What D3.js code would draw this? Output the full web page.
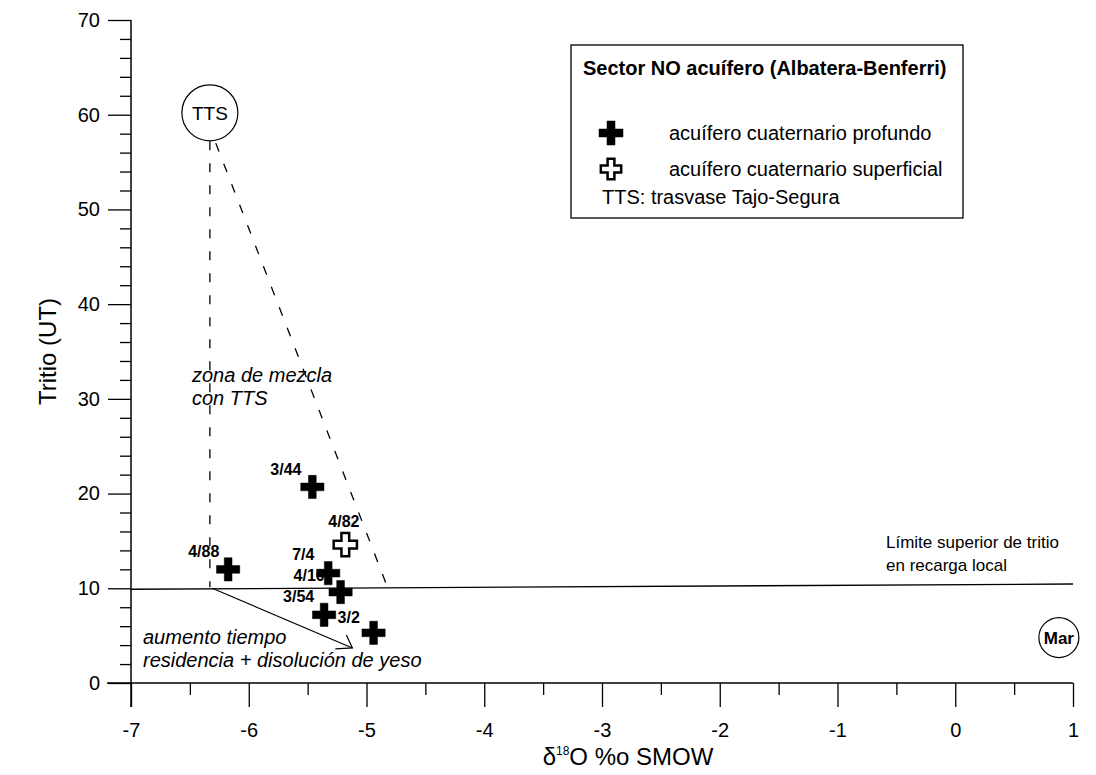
<html><head>
    <title>Tritio vs d18O</title>
    <script src="https://d3js.org/d3.v7.min.js"></script>
    <style>
        body { margin: 0; background: #fff; }
        text { font-family: "Liberation Sans", Arial, sans-serif; fill: #000; }
    </style>
</head>
<body>
<div id="chart"></div>

<script>
    const svgWidth = 1096;
    const svgHeight = 775;

    // data
    const pointNames  = ["4/88", "3/44", "4/82", "4/10", "7/4", "3/54", "3/2"];
    const pointD18O   = [-6.175, -5.46, -5.18, -5.22, -5.325, -5.36, -4.94];
    const pointTritio = [12.0, 20.7, 14.6, 9.6, 11.6, 7.2, 5.3];
    const pointType   = ["profundo", "profundo", "superficial", "profundo", "profundo", "profundo", "profundo"];

    const xTicks = [-7, -6, -5, -4, -3, -2, -1, 0, 1];
    const yTicks = [0, 10, 20, 30, 40, 50, 60, 70];

    const ttsPoint = [-6.33, 60.2];
    const marPoint = [0.88, 4.8];
    const limitLine = [[-7, 9.9], [1, 10.45]];
    const mixLeft = [[-6.33, 57.2], [-6.33, 10.1]];
    const mixRight = [[-6.28, 57.0], [-4.815, 9.9]];
    const arrowLine = [[-6.31, 10.0], [-5.12, 3.7]];

    const legendItems = ["acuífero cuaternario profundo", "acuífero cuaternario superficial"];

    // label offsets in px (relative to the point)
    const labelOffset = {
        "4/88": [-40, -12], "3/44": [-42, -12], "4/82": [-17, -18],
        "7/4": [-36, -13], "4/10": [-47, -11], "3/54": [-41, -13], "3/2": [-36, -10]
    };

    const svg = d3.select("#chart").append("svg")
        .attr("width", svgWidth)
        .attr("height", svgHeight);

    const x = d3.scaleLinear().domain([-7, 1]).range([131, 1073]);
    const y = d3.scaleLinear().domain([0, 70]).range([683, 20]);

    // axes
    const axes = svg.append("g").attr("id", "axes");

    axes.append("g")
        .attr("transform", "translate(0," + y(0) + ")")
        .call(d3.axisBottom(x).tickValues(d3.range(-6.5, 1, 1)).tickSize(12).tickFormat(""))
        .call(g => g.select(".domain").remove());
    axes.append("g")
        .attr("transform", "translate(0," + y(0) + ")")
        .call(d3.axisBottom(x).tickValues(xTicks).tickSize(24).tickPadding(16))
        .call(g => g.select(".domain").remove())
        .call(g => g.selectAll("text").style("font-size", "20px").text(d => d < 0 ? "-" + Math.abs(d) : d));

    axes.append("g")
        .attr("transform", "translate(" + x(-7) + ",0)")
        .call(d3.axisLeft(y).tickValues(d3.range(2, 70, 2).filter(d => d % 10 != 0)).tickSize(11).tickFormat(""))
        .call(g => g.select(".domain").remove());
    axes.append("g")
        .attr("transform", "translate(" + x(-7) + ",0)")
        .call(d3.axisLeft(y).tickValues(yTicks).tickSize(23).tickPadding(8))
        .call(g => g.select(".domain").remove())
        .call(g => g.selectAll("text").style("font-size", "20px"));

    axes.selectAll(".tick line").attr("stroke", "#000").attr("stroke-width", 1.3);

    // axis lines
    axes.append("line")
        .attr("x1", 107).attr("x2", x(1))
        .attr("y1", y(0)).attr("y2", y(0))
        .attr("stroke", "#000").attr("stroke-width", 1.5);
    axes.append("line")
        .attr("x1", x(-7)).attr("x2", x(-7))
        .attr("y1", y(70)).attr("y2", y(0) + 24)
        .attr("stroke", "#000").attr("stroke-width", 1.5);

    svg.append("text")
        .attr("transform", "translate(56," + y(35) + ") rotate(-90)")
        .style("text-anchor", "middle")
        .style("font-size", "24px")
        .text("Tritio (UT)");

    const xTitle = svg.append("text")
        .attr("x", 628).attr("y", 765)
        .style("text-anchor", "middle")
        .style("font-size", "24px");
    xTitle.append("tspan").text("δ");
    xTitle.append("tspan").attr("dy", -10).style("font-size", "12px").text("18");
    xTitle.append("tspan").attr("dy", 10).text("O %o SMOW");

    const line = d3.line().x(d => x(d[0])).y(d => y(d[1]));

    // reference lines
    svg.append("path").attr("d", line(limitLine))
        .attr("fill", "none").attr("stroke", "#000").attr("stroke-width", 1.3);
    svg.append("path").attr("d", line(mixLeft))
        .attr("fill", "none").attr("stroke", "#000").attr("stroke-width", 1.3).attr("stroke-dasharray", "9,13");
    svg.append("path").attr("d", line(mixRight))
        .attr("fill", "none").attr("stroke", "#000").attr("stroke-width", 1.3).attr("stroke-dasharray", "9,13");
    svg.append("path").attr("d", line(arrowLine))
        .attr("fill", "none").attr("stroke", "#000").attr("stroke-width", 1.2);

    // arrowhead
    const ax1 = x(arrowLine[1][0]), ay1 = y(arrowLine[1][1]);
    svg.append("path")
        .attr("d", "M" + (ax1 - 6) + "," + (ay1 - 13) + "L" + ax1 + "," + ay1 + "L" + (ax1 - 17) + "," + (ay1 + 1))
        .attr("fill", "none").attr("stroke", "#000").attr("stroke-width", 1.2);

    // TTS and Mar circles
    svg.append("circle").attr("cx", x(ttsPoint[0])).attr("cy", y(ttsPoint[1])).attr("r", 28)
        .attr("fill", "#fff").attr("stroke", "#000").attr("stroke-width", 1.2);
    svg.append("text").attr("x", x(ttsPoint[0])).attr("y", y(ttsPoint[1]) + 7)
        .style("text-anchor", "middle").style("font-size", "19px").text("TTS");

    svg.append("circle").attr("cx", x(marPoint[0])).attr("cy", y(marPoint[1])).attr("r", 20)
        .attr("fill", "#fff").attr("stroke", "#000").attr("stroke-width", 1.2);
    svg.append("text").attr("x", x(marPoint[0])).attr("y", y(marPoint[1]) + 6)
        .style("text-anchor", "middle").style("font-size", "17px").style("font-weight", "bold").text("Mar");

    // annotations
    const italic = [
        ["zona de mezcla", 192, 382], ["con TTS", 192, 405],
        ["aumento tiempo", 143, 644], ["residencia + disolución de yeso", 143, 667]
    ];
    svg.selectAll(".ann").data(italic).enter().append("text")
        .attr("x", d => d[1]).attr("y", d => d[2])
        .style("font-size", "20px").style("font-style", "italic")
        .text(d => d[0]);

    svg.append("text").attr("x", 886).attr("y", 548).style("font-size", "17px").text("Límite superior de tritio");
    svg.append("text").attr("x", 886).attr("y", 571).style("font-size", "17px").text("en recarga local");

    // points
    const cross = d3.symbol().type(d3.symbolCross).size(300);
    const points = svg.append("g").attr("id", "points");
    const pts = pointNames.map((n, i) => ({name: n, x: pointD18O[i], y: pointTritio[i], type: pointType[i]}));

    points.selectAll("text").data(pts).enter().append("text")
        .attr("x", d => x(d.x) + labelOffset[d.name][0])
        .attr("y", d => y(d.y) + labelOffset[d.name][1])
        .style("font-size", "16px").style("font-weight", "bold")
        .text(d => d.name);

    points.selectAll("path").data(pts).enter().append("path")
        .attr("d", cross)
        .attr("transform", d => "translate(" + x(d.x) + "," + y(d.y) + ")")
        .attr("fill", d => d.type == "profundo" ? "#000" : "#fff")
        .attr("stroke", "#000")
        .attr("stroke-width", d => d.type == "profundo" ? 0.5 : 2.5);

    // legend
    const legend = svg.append("g").attr("id", "legend");
    legend.append("rect").attr("x", 571).attr("y", 45).attr("width", 392).attr("height", 173)
        .attr("fill", "#fff").attr("stroke", "#000").attr("stroke-width", 1.3);
    legend.append("text").attr("x", 583).attr("y", 75)
        .style("font-size", "20px").style("font-weight", "bold")
        .text("Sector NO acuífero (Albatera-Benferri)");
    legend.selectAll(".li").data(legendItems).enter().append("g")
        .each(function(d, i) {
            const g = d3.select(this);
            g.append("path").attr("d", d3.symbol().type(d3.symbolCross).size(i == 0 ? 320 : 230))
                .attr("transform", "translate(611," + (133 + i * 36) + ")")
                .attr("fill", i == 0 ? "#000" : "#fff")
                .attr("stroke", "#000").attr("stroke-width", i == 0 ? 0.5 : 2.5);
            g.append("text").attr("x", 669).attr("y", 140 + i * 36)
                .style("font-size", "20px").text(d);
        });
    legend.append("text").attr("x", 602).attr("y", 204).style("font-size", "20px").text("TTS: trasvase Tajo-Segura");
</script>
</body></html>
